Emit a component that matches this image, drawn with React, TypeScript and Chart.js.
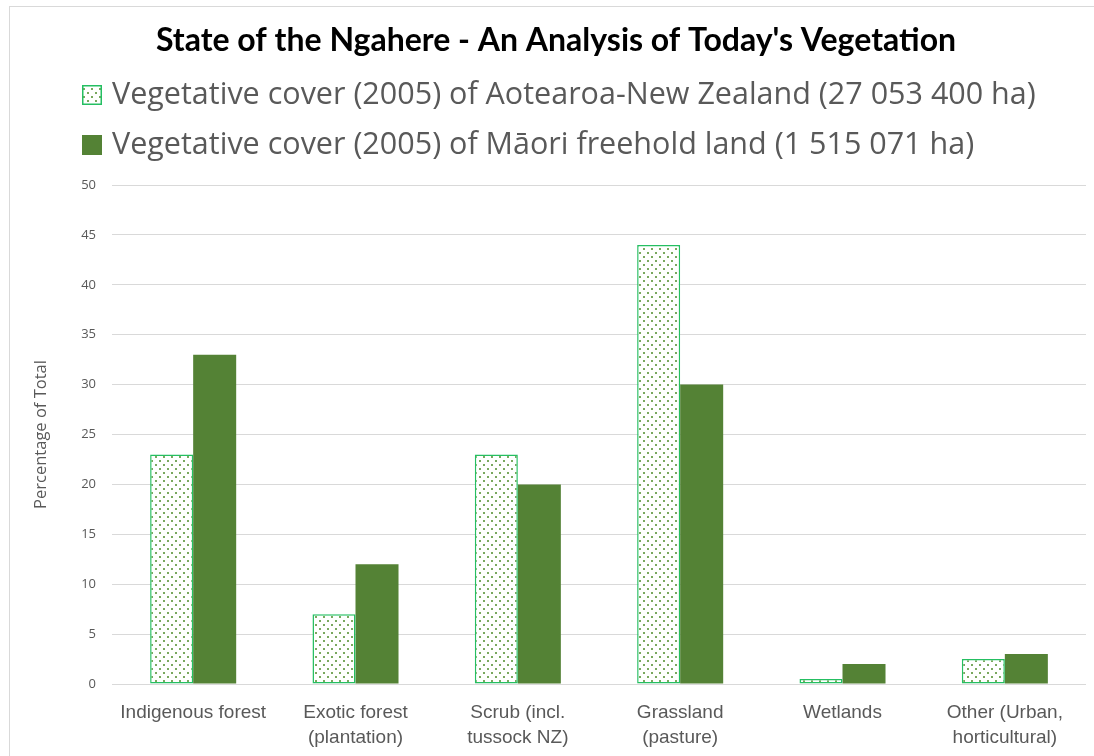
import React, { useEffect, useRef } from "react";
import { Chart, registerables } from "chart.js";

Chart.register(...registerables);

const chartTitle = "State of the Ngahere - An Analysis of Today's Vegetation";
const yAxisTitle = "Percentage of Total";
const categories: (string | string[])[] = [
  "Indigenous forest",
  ["Exotic forest", "(plantation)"],
  ["Scrub (incl.", "tussock NZ)"],
  ["Grassland", "(pasture)"],
  "Wetlands",
  ["Other (Urban,", "horticultural)"],
];
const seriesLabels = [
  "Vegetative cover (2005) of Aotearoa-New Zealand (27 053 400 ha)",
  "Vegetative cover (2005) of Māori freehold land (1 515 071 ha)",
];
const nzCover = [23, 7, 23, 44, 0.5, 2.5];
const maoriCover = [33, 12, 20, 30, 2, 3];
const yMin = 0;
const yMax = 50;
const yStep = 5;

const GREEN = "#548235";
const PATTERN_BORDER = "#25bf62";
const TEXT_GREY = "#595959";
const GRID = "#d9d9d9";

function makeDotPattern(ctx: CanvasRenderingContext2D): CanvasPattern | string {
  const c = document.createElement("canvas");
  c.width = 8;
  c.height = 8;
  const g = c.getContext("2d");
  if (!g) return "#ffffff";
  g.fillStyle = "#ffffff";
  g.fillRect(0, 0, 8, 8);
  g.fillStyle = "#7aa85f";
  g.fillRect(1, 1, 2, 2);
  g.fillRect(5, 5, 2, 2);
  return ctx.createPattern(c, "repeat") || "#ffffff";
}

const legendRowsY = [88, 138];

const customLegend = {
  id: "customLegend",
  afterDraw(chart: any) {
    const ctx: CanvasRenderingContext2D = chart.ctx;
    ctx.save();
    chart.data.datasets.forEach((ds: any, i: number) => {
      const cy = legendRowsY[i];
      const bx = 72;
      const size = 20;
      ctx.fillStyle = ds.backgroundColor;
      ctx.fillRect(bx, cy - size / 2, size, size);
      if (ds.borderWidth) {
        ctx.strokeStyle = ds.borderColor;
        ctx.lineWidth = 1.5;
        ctx.strokeRect(bx + 0.75, cy - size / 2 + 0.75, size - 1.5, size - 1.5);
      }
      ctx.font = "30.5px 'Open Sans'";
      ctx.fillStyle = TEXT_GREY;
      ctx.textBaseline = "middle";
      ctx.textAlign = "left";
      ctx.fillText(ds.label, 102, cy);
    });
    ctx.restore();
  },
};

export default function App() {
  const ref = useRef<HTMLCanvasElement | null>(null);

  useEffect(() => {
    const canvas = ref.current;
    if (!canvas) return;
    const ctx = canvas.getContext("2d");
    if (!ctx) return;
    const pattern = makeDotPattern(ctx);

    const chart = new Chart(canvas, {
      type: "bar",
      data: {
        labels: categories,
        datasets: [
          {
            label: seriesLabels[0],
            data: nzCover,
            backgroundColor: pattern as any,
            borderColor: PATTERN_BORDER,
            borderWidth: 1.5,
            borderSkipped: false,
          },
          {
            label: seriesLabels[1],
            data: maoriCover,
            backgroundColor: GREEN,
            borderWidth: 0,
          },
        ],
      },
      options: {
        animation: false,
        responsive: false,
        maintainAspectRatio: false,
        layout: { padding: { left: 16, right: 18, top: 0, bottom: 0 } },
        datasets: { bar: { categoryPercentage: 0.53, barPercentage: 1 } },
        plugins: {
          legend: { display: false },
          tooltip: { enabled: false },
          title: {
            display: true,
            text: chartTitle,
            color: "#000000",
            font: { family: "Lato", size: 32, weight: "bold", lineHeight: 1.2 },
            padding: { top: 14, bottom: 125.6 },
          },
        },
        scales: {
          x: {
            grid: { display: false, drawTicks: false },
            border: { display: false },
            ticks: {
              color: TEXT_GREY,
              font: { family: "Liberation Sans", size: 19, lineHeight: 1.3 },
              padding: 16.5,
              maxRotation: 0,
              autoSkip: false,
            },
            afterFit: (s: any) => {
              s.height = 72;
            },
          },
          y: {
            min: yMin,
            max: yMax,
            grid: { color: GRID, drawTicks: false, lineWidth: 1 },
            border: { display: false },
            ticks: {
              stepSize: yStep,
              color: TEXT_GREY,
              font: { family: "Open Sans", size: 13 },
              padding: 16,
            },
            title: {
              display: true,
              text: yAxisTitle,
              color: TEXT_GREY,
              font: { family: "Open Sans", size: 16.5, lineHeight: 1.2 },
              padding: { top: 5, bottom: 0 },
            },
            afterFit: (s: any) => {
              s.width = 86;
            },
          },
        },
      },
      plugins: [customLegend],
    });
    return () => chart.destroy();
  }, []);

  return (
    <div
      style={{
        position: "fixed",
        left: 0,
        top: 0,
        width: 1094,
        height: 756,
        overflow: "hidden",
        background: "#ffffff",
      }}
    >
      <div
        style={{
          position: "absolute",
          left: 9,
          top: 6,
          width: 1200,
          height: 800,
          borderLeft: "1px solid #d9d9d9",
          borderTop: "1px solid #d9d9d9",
        }}
      >
        <canvas ref={ref} width={1094} height={749} style={{ display: "block" }} />
      </div>
    </div>
  );
}
